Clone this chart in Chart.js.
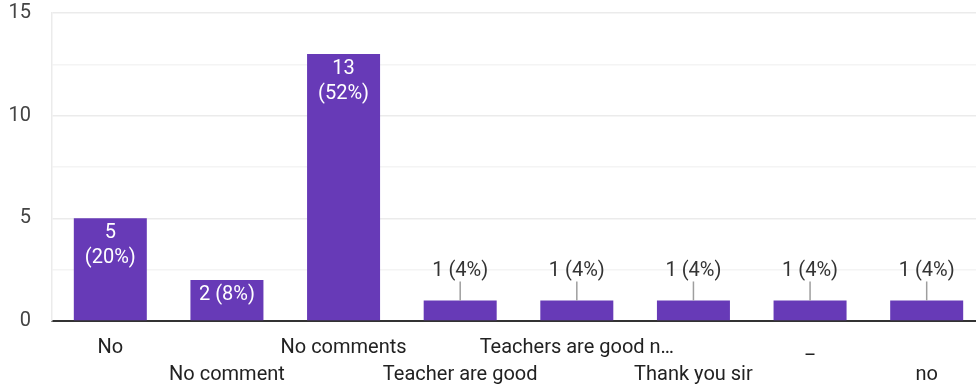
<!DOCTYPE html>
<html>
<head>
<meta charset="utf-8">
<script src="https://cdn.jsdelivr.net/npm/chart.js@4.4.0/dist/chart.umd.min.js"></script>
<style>
  html, body { margin: 0; padding: 0; background: #fff; overflow: hidden; }
  #wrap { width: 976px; height: 390px; overflow: hidden; }
</style>
</head>
<body>
<div id="wrap"><canvas id="chart" width="985" height="390"></canvas></div>
<script>
// ===== Data =====
const categories = ['No', 'No comment', 'No comments', 'Teacher are good', 'Teachers are good n\u2026', 'Thank you sir', '_', 'no'];
const counts = [5, 2, 13, 1, 1, 1, 1, 1];
const yTicks = [0, 5, 10, 15];

const FONT = 'Roboto, Arial, sans-serif';
const BAR = '#673ab7';
const total = counts.reduce((a, b) => a + b, 0);

// staggered x labels: even index on first row, odd on second
const xLabels = categories.map((c, i) => (i % 2 === 0 ? [c, ''] : ['', c]));

// ===== Value labels (inside bar when it fits, else above with a leader line) =====
const valueLabels = {
    id: 'valueLabels',
    afterDatasetsDraw(chart) {
        const ctx = chart.ctx;
        const meta = chart.getDatasetMeta(0);
        ctx.save();
        ctx.font = '20px ' + FONT;
        ctx.textAlign = 'center';
        ctx.textBaseline = 'middle';
        meta.data.forEach((bar, i) => {
            const v = counts[i];
            const pct = Math.round(v / total * 100);
            const oneLine = v + ' (' + pct + '%)';
            const barH = bar.base - bar.y;
            let lines = [oneLine];
            if (ctx.measureText(oneLine).width > bar.width - 6) lines = [String(v), '(' + pct + '%)'];
            const need = lines.length * 25 + 6;
            if (barH >= need) {
                ctx.fillStyle = '#ffffff';
                lines.forEach((t, k) => ctx.fillText(t, bar.x, bar.y + 15 + k * 25));
            } else {
                ctx.fillStyle = '#333333';
                ctx.fillText(oneLine, bar.x, bar.y - 29);
                ctx.strokeStyle = '#9e9e9e';
                ctx.lineWidth = 1.5;
                ctx.beginPath();
                ctx.moveTo(bar.x, bar.y - 19);
                ctx.lineTo(bar.x, bar.y);
                ctx.stroke();
            }
        });
        ctx.restore();
    }
};

new Chart(document.getElementById('chart').getContext('2d'), {
    type: 'bar',
    data: {
        labels: xLabels,
        datasets: [{
            data: counts,
            backgroundColor: BAR,
            borderWidth: 0,
            categoryPercentage: 1,
            barPercentage: 0.626,
        }]
    },
    options: {
        responsive: false,
        animation: false,
        layout: { padding: { top: 13, left: 0, right: 0, bottom: 0 } },
        plugins: { legend: { display: false }, tooltip: { enabled: false } },
        scales: {
            x: {
                grid: { display: false, drawTicks: false },
                border: { display: true, color: '#333333', width: 2 },
                ticks: {
                    color: '#222222',
                    font: { size: 20, family: FONT, lineHeight: 1.35 },
                    padding: 13,
                    maxRotation: 0,
                    autoSkip: false,
                },
                afterFit(scale) {
                    scale.height = 69;
                    scale.paddingLeft = 0;
                    scale.paddingRight = 0;
                }
            },
            y: {
                min: 0,
                max: 15,
                afterBuildTicks(scale) {
                    const t = [];
                    for (let v = 0; v <= 15; v += 2.5) t.push({ value: v });
                    scale.ticks = t;
                },
                grid: {
                    drawTicks: false,
                    color: (c) => (c.tick && yTicks.includes(c.tick.value) ? '#ebebeb' : '#f4f4f4'),
                    lineWidth: 1.5,
                },
                border: { display: true, color: '#ebebeb', width: 1.5 },
                ticks: {
                    color: '#444444',
                    font: { size: 20, family: FONT },
                    padding: 21,
                    callback: (v) => (yTicks.includes(v) ? String(v) : ''),
                },
                afterFit(scale) {
                    scale.width = 52;
                    scale.paddingTop = 0;
                    scale.paddingBottom = 0;
                }
            }
        }
    },
    plugins: [valueLabels]
});
</script>
</body>
</html>
